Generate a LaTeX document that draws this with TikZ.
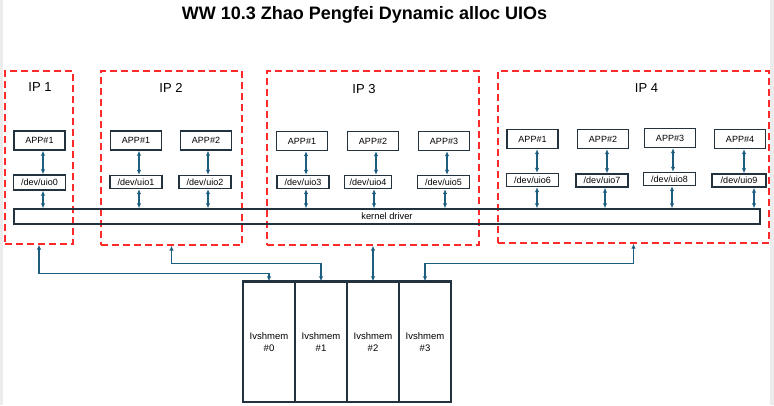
\documentclass[tikz,border=0pt]{standalone}
\usepackage{fontspec}
\setmainfont{Liberation Sans}
\usepackage{tikz}
\usetikzlibrary{calc,arrows.meta}
\usepackage{xcolor}
\definecolor{ipred}{HTML}{FF2A2A}
\definecolor{boxline}{HTML}{22333F}
\definecolor{linkblue}{HTML}{1D5E80}

\begin{document}
\begin{tikzpicture}[x=1pt,y=-1pt,
  ipbox/.style={draw=ipred, line width=1.3pt, dash pattern=on 7pt off 4pt, inner sep=0pt},
  appbox/.style={draw=boxline, line width=1.4pt, inner sep=0pt, minimum width=51, minimum height=19, font=\fontsize{9}{10}\selectfont},
  uiobox/.style={draw=boxline, line width=1.4pt, inner sep=0pt, minimum width=52, minimum height=13, font=\fontsize{9}{10}\selectfont},
  membox/.style={draw=boxline, line width=1.4pt, inner sep=0pt, minimum width=52, minimum height=120, align=center, font=\fontsize{9.5}{11.5}\selectfont},
  link/.style={draw=linkblue, line width=1.3pt, {Latex[length=5pt,width=4.5pt]}-{Latex[length=5pt,width=4.5pt]}},
  iplabel/.style={anchor=base, font=\fontsize{13}{15}\selectfont}]
\useasboundingbox (0,0) rectangle (774,405);
\fill[gray!15] (0,0) rectangle (3,405);
\fill[gray!15] (770,0) rectangle (774,405);
\node[anchor=base, font=\fontsize{18}{20}\selectfont\bfseries] (title) at (364.5,19) {WW 10.3 Zhao Pengfei Dynamic alloc UIOs};

\node[ipbox, minimum width=68, minimum height=173] (ip1) at (39,157.5) {};
\node[ipbox, minimum width=141, minimum height=174] (ip2) at (171.5,158) {};
\node[ipbox, minimum width=212, minimum height=174] (ip3) at (373,158) {};
\node[ipbox, minimum width=271, minimum height=172] (ip4) at (633.5,157) {};
\node[iplabel] (l1) at (40,91) {IP 1};
\node[iplabel] (l2) at (171,92) {IP 2};
\node[iplabel] (l3) at (364,93) {IP 3};
\node[iplabel] (l4) at (646.5,92) {IP 4};

\node[appbox] (a0) at (39.5,140.5) {APP\#1};
\node[appbox] (a1) at (136,140.5) {APP\#1};
\node[appbox] (a2) at (206,140.5) {APP\#2};
\node[appbox] (a3) at (302,141) {APP\#1};
\node[appbox] (a4) at (373,141) {APP\#2};
\node[appbox] (a5) at (444,141) {APP\#3};
\node[appbox] (a6) at (532.5,139) {APP\#1};
\node[appbox] (a7) at (603,139) {APP\#2};
\node[appbox] (a8) at (670,138) {APP\#3};
\node[appbox] (a9) at (740,139) {APP\#4};

\node[uiobox, minimum height=15] (u0) at (39.5,182.5) {/dev/uio0};
\node[uiobox] (u1) at (136,182) {/dev/uio1};
\node[uiobox] (u2) at (205,182) {/dev/uio2};
\node[uiobox] (u3) at (303,182) {/dev/uio3};
\node[uiobox, minimum width=47] (u4) at (368,182) {/dev/uio4};
\node[uiobox] (u5) at (443.5,182) {/dev/uio5};
\node[uiobox] (u6) at (532.5,180) {/dev/uio6};
\node[uiobox] (u7) at (602,180.5) {/dev/uio7};
\node[uiobox] (u8) at (669.5,179) {/dev/uio8};
\node[uiobox, minimum width=54] (u9) at (739,180.5) {/dev/uio9};

\node[draw=boxline, line width=1.4pt, inner sep=0pt, minimum width=746, minimum height=15, font=\fontsize{9.3}{10}\selectfont] (kd) at (387,216.5) {kernel driver};

\foreach \i/\dx in {0/3.5,1/3,2/2,3/4,4/3,5/3,6/4.5,7/4,8/3,9/4}
  \draw[link] ([xshift=\dx]a\i.south) -- ([xshift=\dx]a\i.south |- u\i.north);
\foreach \i/\dx in {0/3.5,1/3,2/3,3/3,4/6,5/1.5,6/4.5,7/3,8/2.5,9/15}
  \draw[link] ([xshift=\dx]u\i.south) -- ([xshift=\dx]u\i.south |- kd.north);

\node[membox] (m0) at (269,342) {Ivshmem\\\#0};
\node[membox] (m1) at (321,342) {Ivshmem\\\#1};
\node[membox] (m2) at (373,342) {Ivshmem\\\#2};
\node[membox] (m3) at (425,342) {Ivshmem\\\#3};
\draw[boxline, line width=2.2pt] (m0.north west) -- (m3.north east);

\draw[link] (ip1.south) -- ++(0,29) -| (m0.north);
\draw[link] (ip2.south) -- ++(0,18) -| (m1.north);
\draw[link] (ip3.south) -- (m2.north);
\draw[link] (ip4.south) -- ++(0,20) -| (m3.north);
\end{tikzpicture}
\end{document}
